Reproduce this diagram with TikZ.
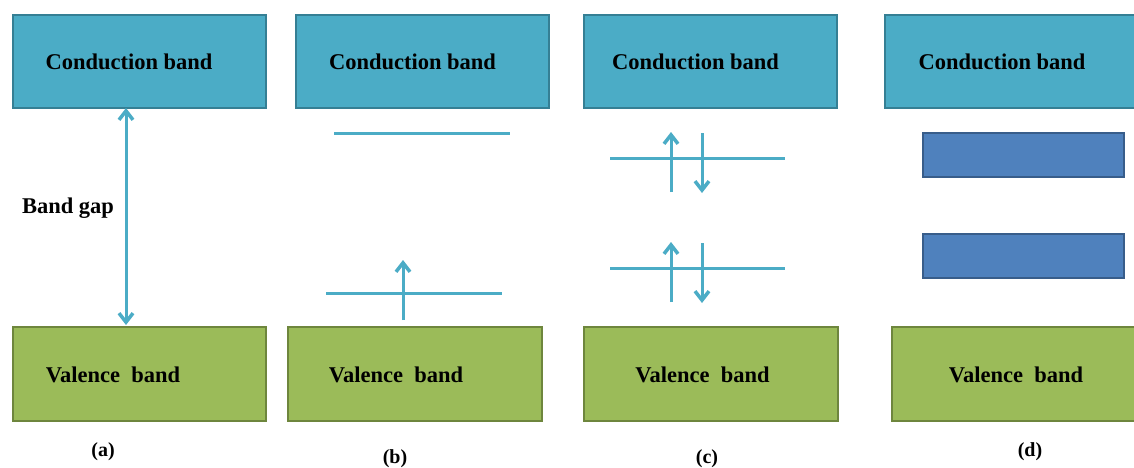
\documentclass[tikz,border=0pt]{standalone}
\usepackage{fontspec}
\setmainfont{Liberation Serif}
\usetikzlibrary{arrows.meta}
\definecolor{cfill}{HTML}{4BACC6}
\definecolor{cdraw}{HTML}{357F94}
\definecolor{vfill}{HTML}{9BBB59}
\definecolor{vdraw}{HTML}{6E863D}
\definecolor{bfill}{HTML}{4F81BD}
\definecolor{bdraw}{HTML}{385D8A}
\definecolor{ln}{HTML}{4BACC6}
\tikzset{
  cbox/.style={draw=cdraw, fill=cfill, line width=2pt, rectangle, inner sep=0pt, anchor=north west},
  vbox/.style={draw=vdraw, fill=vfill, line width=2pt, rectangle, inner sep=0pt, anchor=north west},
  lbox/.style={draw=bdraw, fill=bfill, line width=2pt, rectangle, inner sep=0pt, anchor=north west},
  txt/.style={font=\fontsize{22.5}{27}\selectfont\bfseries, inner sep=0pt, anchor=base},
  sublabel/.style={font=\fontsize{20}{24}\selectfont\bfseries, inner sep=0pt, anchor=base},
  level/.style={draw=ln, line width=3pt},
  tip/.tip={Straight Barb[length=9pt,width=14pt,line width=0.5pt 1]},
  spin/.style={draw=ln, line width=3pt, -tip},
  gap/.style={draw=ln, line width=3pt, tip-tip}
}
\begin{document}
\begin{tikzpicture}[x=1pt,y=-1pt]
\useasboundingbox[fill=white] (0,0) rectangle (1134,468);
% conduction bands
\node[cbox, minimum width=253pt, minimum height=93pt] (ca) at (12,14) {};
\node[cbox, minimum width=253pt, minimum height=93pt] (cb) at (295,14) {};
\node[cbox, minimum width=253pt, minimum height=93pt] (cc) at (583,14) {};
\node[cbox, minimum width=253pt, minimum height=93pt] (cd) at (884,14) {};
% valence bands
\node[vbox, minimum width=253pt, minimum height=94pt] (va) at (12,326) {};
\node[vbox, minimum width=254pt, minimum height=94pt] (vb) at (287,326) {};
\node[vbox, minimum width=254pt, minimum height=94pt] (vc) at (583,326) {};
\node[vbox, minimum width=253pt, minimum height=94pt] (vd) at (891,326) {};
% texts
\node[txt] (tca) at (129,70) {Conduction band};
\node[txt] (tcb) at (412.5,70) {Conduction band};
\node[txt] (tcc) at (695.5,70) {Conduction band};
\node[txt] (tcd) at (1002,70) {Conduction band};
\node[txt] (tva) at (113,382) {Valence\ \ band};
\node[txt] (tvb) at (396,382) {Valence\ \ band};
\node[txt] (tvc) at (702.5,382) {Valence\ \ band};
\node[txt] (tvd) at (1016,382) {Valence\ \ band};
\node[txt] (tgap) at (68,213) {Band gap};
% captions
\node[sublabel] (la) at (103,456) {(a)};
\node[sublabel] (lb) at (395,463) {(b)};
\node[sublabel] (lc) at (707,463) {(c)};
\node[sublabel] (ld) at (1030,456) {(d)};
% (a) band gap arrow
\coordinate (ga) at (126,108);
\coordinate (gb) at (126,325);
\draw[gap] (ga) -- (gb);
% (b) levels
\coordinate (b1l) at (334,133); \coordinate (b1r) at (510,133);
\coordinate (b2l) at (326,293); \coordinate (b2r) at (502,293);
\draw[level] (b1l) -- (b1r);
\draw[level] (b2l) -- (b2r);
\coordinate (bs0) at (403,320); \coordinate (bs1) at (403,260);
\draw[spin] (bs0) -- (bs1);
% (c) levels
\coordinate (c1l) at (610,158); \coordinate (c1r) at (785,158);
\coordinate (c2l) at (610,268); \coordinate (c2r) at (785,268);
\draw[level] (c1l) -- (c1r);
\draw[level] (c2l) -- (c2r);
\coordinate (cu0) at (671,192); \coordinate (cu1) at (671,132);
\coordinate (cd0) at (702,133); \coordinate (cd1) at (702,193);
\draw[spin] (cu0) -- (cu1);
\draw[spin] (cd0) -- (cd1);
\coordinate (cu2) at (671,302); \coordinate (cu3) at (671,242);
\coordinate (cd2) at (702,243); \coordinate (cd3) at (702,303);
\draw[spin] (cu2) -- (cu3);
\draw[spin] (cd2) -- (cd3);
% (d) bands
\node[lbox, minimum width=201pt, minimum height=44pt] (d1) at (922,132) {};
\node[lbox, minimum width=201pt, minimum height=44pt] (d2) at (922,233) {};
\end{tikzpicture}
\end{document}
